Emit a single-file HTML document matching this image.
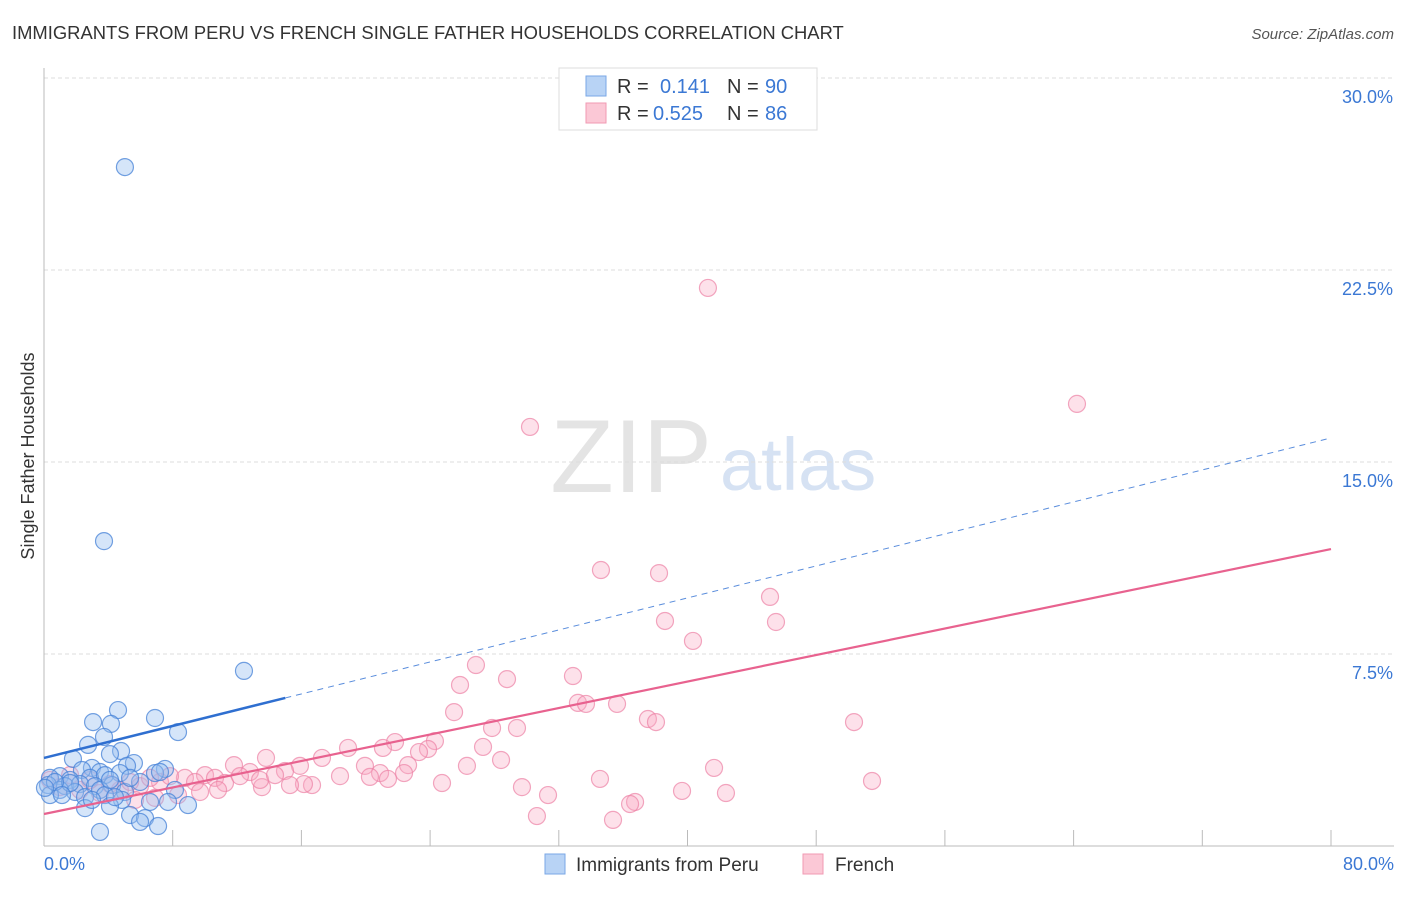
<!DOCTYPE html>
<html><head><meta charset="utf-8"><style>
body{margin:0;background:#fff;font-family:"Liberation Sans",sans-serif;}
svg text{font-family:"Liberation Sans",sans-serif;}
</style></head><body>
<svg id="chart" width="1406" height="892">
<text x="12" y="39" font-size="18.4" fill="#333">IMMIGRANTS FROM PERU VS FRENCH SINGLE FATHER HOUSEHOLDS CORRELATION CHART</text>
<text x="1394" y="39" font-size="15" fill="#555" font-style="italic" text-anchor="end">Source: ZipAtlas.com</text>
<text x="712" y="492" font-size="104" fill="#e4e4e4" text-anchor="end" font-family="Liberation Serif">ZIP</text>
<text x="720" y="490" font-size="74" fill="#d6e2f3">atlas</text>
<g id="grid"></g><g id="axes"></g><g id="pts"></g><g id="lines"></g>
<text transform="translate(34,456) rotate(-90)" font-size="18" fill="#333" text-anchor="middle">Single Father Households</text>
<g>
<rect x="559" y="68" width="258" height="62" fill="#fff" stroke="#ddd"/>
<rect x="586" y="76" width="20" height="20" fill="#b8d3f5" stroke="#7aa7e6"/>
<rect x="586" y="103" width="20" height="20" fill="#fbc8d6" stroke="#f09ab3"/>
<text x="617" y="93" font-size="20" fill="#333">R = </text><text x="660" y="93" font-size="20" fill="#3b78d4">0.141</text>
<text x="727" y="93" font-size="20" fill="#333">N = </text><text x="765" y="93" font-size="20" fill="#3b78d4">90</text>
<text x="617" y="120" font-size="20" fill="#333">R = </text><text x="653" y="120" font-size="20" fill="#3b78d4">0.525</text>
<text x="727" y="120" font-size="20" fill="#333">N = </text><text x="765" y="120" font-size="20" fill="#3b78d4">86</text>
</g>
<g>
<rect x="545" y="854" width="20" height="20" fill="#b8d3f5" stroke="#7aa7e6"/>
<text x="576" y="871" font-size="19" fill="#333">Immigrants from Peru</text>
<rect x="803" y="854" width="20" height="20" fill="#fbc8d6" stroke="#f09ab3"/>
<text x="835" y="871" font-size="19" fill="#333">French</text>
</g>
</svg>
<script>
const yTicks=[7.5,15,22.5,30];
const yTickLabels=["7.5%","15.0%","22.5%","30.0%"];
const xTicks=[0,8,16,24,32,40,48,56,64,72,80];
const xTickLabels=["0.0%","80.0%"];
const bluePx=[[125,167],[104,541],[244,671],[118,710],[155,718],[93,722],[111,724],[178,732],[104,737],[88,745],[121,751],[110,754],[73,759],[134,763],[165,769],[127,766],[92,768],[100,772],[82,770],[155,773],[60,776],[50,778],[70,780],[90,778],[105,775],[120,773],[48,785],[65,786],[80,784],[95,786],[112,785],[140,782],[60,790],[75,792],[100,790],[125,792],[175,790],[50,795],[85,797],[105,795],[122,800],[150,802],[168,802],[188,805],[110,806],[85,808],[130,815],[145,818],[140,822],[158,826],[100,832],[70,783],[55,782],[160,772],[110,780],[130,778],[45,788],[62,795],[92,800],[115,797]];
const pinkPx=[[708,288],[1077,404],[530,427],[601,570],[659,573],[770,597],[665,621],[776,622],[693,641],[476,665],[573,676],[460,685],[507,679],[578,703],[586,704],[617,704],[454,712],[648,719],[656,722],[854,722],[492,728],[517,728],[395,742],[348,748],[435,741],[383,748],[428,749],[419,752],[483,747],[322,758],[266,758],[234,765],[501,760],[300,766],[467,766],[365,766],[408,765],[714,768],[380,773],[404,773],[285,771],[250,772],[340,776],[370,777],[388,779],[600,779],[872,781],[442,783],[312,785],[304,784],[262,787],[522,787],[290,785],[682,791],[726,793],[548,795],[635,802],[630,804],[537,816],[613,820],[205,775],[185,778],[160,782],[140,786],[120,790],[100,793],[80,790],[60,787],[50,780],[70,775],[90,780],[110,784],[130,782],[150,778],[170,776],[195,782],[215,778],[225,783],[240,776],[260,780],[275,775],[218,790],[200,792],[178,795],[155,798],[135,800]];
const blueX=bluePx.map(p=>+((p[0]-44)/16.0875).toFixed(2));
const blueY=bluePx.map(p=>+((846-p[1])/25.6).toFixed(2));
const pinkX=pinkPx.map(p=>+((p[0]-44)/16.0875).toFixed(2));
const pinkY=pinkPx.map(p=>+((846-p[1])/25.6).toFixed(2));
const blueTrend=[3.44,15.94];
const pinkTrend=[1.25,11.6];
const X=v=>44+v/80*1287, Y=v=>846-v*25.6;
const NS="http://www.w3.org/2000/svg";
function mk(tag,parent,attrs){const e=document.createElementNS(NS,tag);for(const k in attrs)e.setAttribute(k,attrs[k]);document.getElementById(parent).appendChild(e);return e;}
yTicks.forEach((t,i)=>{
 const l=mk('line','grid',{x1:44,x2:1394,y1:Y(t),y2:Y(t),stroke:'#ddd','stroke-dasharray':'4,3'});
 
 
 const tx=mk('text','grid',{x:1393,y:Y(t)+25,'font-size':18,fill:'#3b78d4','text-anchor':'end'});
 tx.textContent=yTickLabels[i];
 
 
});
const ya=mk('line','axes',{x1:44,x2:44,y1:68,y2:846,stroke:'#bbb'});


const xa=mk('line','axes',{x1:44,x2:1394,y1:846,y2:846,stroke:'#bbb'});


xTicks.forEach(t=>{
 const l=mk('line','axes',{x1:X(t),x2:X(t),y1:830,y2:846,stroke:'#bbb'});
 
 
});
[[0,'start',44],[80,'end',1394]].forEach((d,i)=>{
 const tx=mk('text','axes',{x:d[2],y:870,'font-size':18,fill:'#3b78d4','text-anchor':d[1]});
 tx.textContent=xTickLabels[i];
 
 
});
pinkX.forEach((x,i)=>{
 const c=mk('circle','pts',{cx:X(x),cy:Y(pinkY[i]),r:8.5,fill:'rgba(248,170,195,0.35)',stroke:'rgba(236,130,165,0.7)','stroke-width':1.2});
 
 
});
blueX.forEach((x,i)=>{
 const c=mk('circle','pts',{cx:X(x),cy:Y(blueY[i]),r:8.5,fill:'rgba(150,190,240,0.4)',stroke:'rgba(70,130,215,0.75)','stroke-width':1.2});
 
 
});
const bAt=v=>blueTrend[0]+(blueTrend[1]-blueTrend[0])*v/80;
const b1=mk('line','lines',{x1:X(0),y1:Y(bAt(0)),x2:X(15),y2:Y(bAt(15)),stroke:'#2f6fd0','stroke-width':2.5});


const b2=mk('line','lines',{x1:X(15),y1:Y(bAt(15)),x2:X(80),y2:Y(bAt(80)),stroke:'#5a8ddc','stroke-width':1,'stroke-dasharray':'6,5'});


const p1=mk('line','lines',{x1:X(0),y1:Y(pinkTrend[0]),x2:X(80),y2:Y(pinkTrend[1]),stroke:'#e8628f','stroke-width':2.2});


</script>
</body></html>
